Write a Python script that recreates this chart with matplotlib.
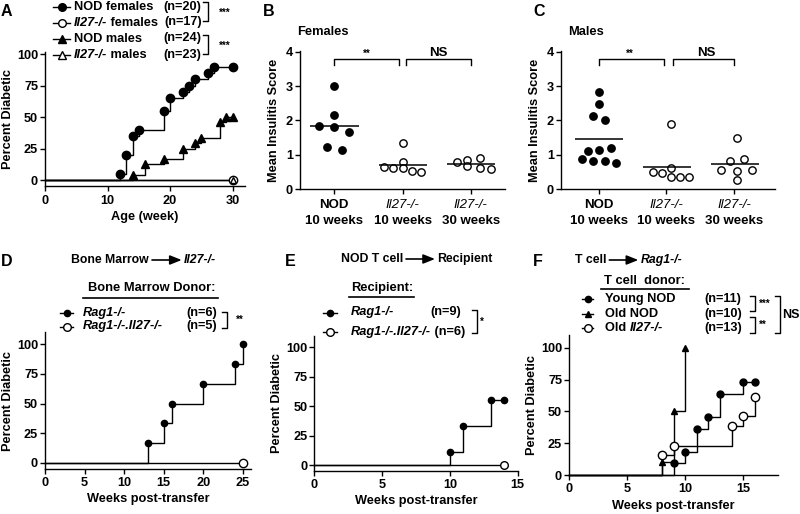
import numpy as np
import matplotlib
matplotlib.use('Agg')
import matplotlib.pyplot as plt

plt.rcParams['font.family'] = ['Liberation Sans', 'DejaVu Sans']
plt.rcParams['font.weight'] = 'bold'
plt.rcParams['font.size'] = 9
plt.rcParams['axes.linewidth'] = 1.0

# ---------------- data ----------------
# Panel A (Kaplan-Meier style incidence)
A_nod_f_weeks = [12, 13, 14, 15, 19, 20, 22, 23, 24, 26, 27, 30]
A_nod_f_pct = [5, 20, 35, 40, 55, 65, 70, 75, 80, 85, 90, 90]
A_il27_f_weeks = [30]
A_il27_f_pct = [0]
A_nod_m_weeks = [14, 16, 19, 22, 24, 25, 28, 29, 30]
A_nod_m_pct = [4.2, 12.5, 16.7, 25, 29.2, 33.3, 45.8, 50, 50]
A_il27_m_weeks = [30]
A_il27_m_pct = [0]

# Panels B/C (insulitis scores)
cat_line1 = ['NOD', 'Il27-/-', 'Il27-/-']
cat_line2 = ['10 weeks', '10 weeks', '30 weeks']
B_nod10 = [3.0, 2.17, 1.84, 1.81, 1.68, 1.23, 1.13]
B_il27_10 = [1.34, 0.78, 0.64, 0.61, 0.61, 0.54, 0.50]
B_il27_30 = [0.79, 0.84, 0.90, 0.67, 0.63, 0.59]
C_nod10 = [2.82, 2.47, 2.13, 2.02, 1.19, 1.14, 1.11, 0.87, 0.83, 0.81, 0.75]
C_il27_10 = [1.90, 0.62, 0.50, 0.47, 0.37, 0.37, 0.37]
C_il27_30 = [1.50, 0.83, 0.88, 0.57, 0.54, 0.55, 0.26]
# horizontal spread of dots
B_off = [[0, 0, -0.22, 0, 0.22, -0.11, 0.11],
         [0, 0, -0.27, -0.14, 0, 0.14, 0.27],
         [-0.20, -0.05, 0.13, -0.05, 0.13, 0.29]]
C_off = [[0, 0, -0.08, 0.09, 0.18, 0, -0.16, -0.25, -0.08, 0.09, 0.26],
         [0.07, 0.07, -0.20, -0.07, 0.07, 0.20, 0.33],
         [0.04, -0.07, 0.15, -0.19, 0.04, 0.26, 0.04]]

# Panel D
D_rag_weeks = [13, 15, 16, 20, 24, 25]
D_rag_pct = [16.7, 33.3, 50, 66.7, 83.3, 100]
D_il27_weeks = [25]
D_il27_pct = [0]
# Panel E
E_rag_weeks = [10, 11, 13, 14]
E_rag_pct = [11.1, 33.3, 55.6, 55.6]
E_il27_weeks = [14]
E_il27_pct = [0]
# Panel F
F_young_weeks = [9, 10, 11, 12, 13, 15, 16]
F_young_pct = [9.1, 18.2, 36.4, 45.5, 63.6, 72.7, 72.7]
F_oldnod_weeks = [8, 9, 10]
F_oldnod_pct = [10, 50, 100]
F_oldil27_weeks = [8, 9, 14, 15, 16]
F_oldil27_pct = [15.4, 23.1, 38.5, 46.2, 61.5]

# ---------------- figure ----------------
W, H = 800, 514
fig = plt.figure(figsize=(W / 100, H / 100), dpi=100)


def px_axes(L, T, R, B):
    return fig.add_axes([L / W, 1 - B / H, (R - L) / W, (B - T) / H])


def style(ax):
    for s in ['top', 'right']:
        ax.spines[s].set_visible(False)
    ax.tick_params(direction='out', length=3.5, width=1.0, labelsize=9.2)
    ax.tick_params(axis='y', pad=1.5)
    ax.tick_params(axis='x', pad=2.5)
    for lab in ax.get_xticklabels() + ax.get_yticklabels():
        lab.set_fontweight('bold')


def km(ax, weeks, pct, marker, filled, ms):
    ax.step([0] + list(weeks), [0] + list(pct), where='post', color='k', lw=1.0,
            clip_on=False, zorder=2)
    ax.plot(weeks, pct, ls='none', marker=marker, ms=ms,
            mfc='k' if filled else 'white', mec='k', mew=1.0, clip_on=False, zorder=3)


# ----- A -----
axA = px_axes(45, 51.5, 245, 186.3)
km(axA, A_nod_f_weeks, A_nod_f_pct, 'o', True, 6)
km(axA, A_nod_m_weeks, A_nod_m_pct, '^', True, 5.5)
km(axA, A_il27_f_weeks, A_il27_f_pct, 'o', False, 6)
km(axA, A_il27_m_weeks, A_il27_m_pct, '^', False, 5)
axA.set_xlim(0, 32)
axA.set_ylim(-5, 102)
axA.set_xticks([0, 10, 20, 30])
axA.set_yticks([0, 25, 50, 75, 100])
axA.set_xlabel('Age (week)', fontsize=9.2, fontweight='bold', labelpad=3)
axA.set_ylabel('Percent Diabetic', fontsize=9.2, fontweight='bold', labelpad=2)
style(axA)


# ----- B / C -----
def dots(ax, groups, offs, xlim):
    for i, (vals, off) in enumerate(zip(groups, offs)):
        xi = i + 1
        xs = [xi + o for o in off]
        ax.plot(xs, vals, ls='none', marker='o', ms=5.3,
                mfc='k' if i == 0 else 'white', mec='k', mew=1.0, clip_on=False)
        ax.hlines(np.mean(vals), xi - 0.35, xi + 0.36, color='k', lw=1.1)
    ax.set_xlim(*xlim)
    ax.set_ylim(0, 4.02)
    ax.set_yticks([0, 1, 2, 3, 4])
    ax.set_xticks([1, 2, 3])
    ax.set_xticklabels([])
    ax.set_ylabel('Mean Insulitis Score', fontsize=9.2, fontweight='bold', labelpad=4)
    style(ax)
    for i in range(3):
        ital = cat_line1[i] != 'NOD'
        ax.annotate(cat_line1[i], xy=(i + 1, 0), xycoords=('data', 'axes fraction'),
                    xytext=(0, -11.3), textcoords='offset points', ha='center', va='center',
                    fontsize=9.5, fontstyle='italic' if ital else 'normal',
                    fontweight='normal' if ital else 'bold')
        ax.annotate(cat_line2[i], xy=(i + 1, 0), xycoords=('data', 'axes fraction'),
                    xytext=(0, -22.6), textcoords='offset points', ha='center', va='center',
                    fontsize=9.5, fontweight='bold')


axB = px_axes(300, 51, 505, 189.3)
dots(axB, [B_nod10, B_il27_10, B_il27_30], B_off, (0.5, 3.5))
axC = px_axes(560.7, 51, 775, 189.3)
dots(axC, [C_nod10, C_il27_10, C_il27_30], C_off, (0.44, 3.6))


def top_bracket(ax, x0, x1, ytop, yleg, label, lx, ly, size):
    ax.plot([x0, x0, x1, x1], [yleg, ytop, ytop, yleg], color='k', lw=1.0, clip_on=False)
    ax.text(lx, ly, label, ha='center', va='center', fontsize=size, fontweight='bold')


top_bracket(axB, 1.0, 1.95, 3.79, 3.6, '**', 1.48, 3.93, 7)
top_bracket(axB, 2.05, 3.0, 3.79, 3.6, 'NS', 2.52, 3.97, 9.5)
top_bracket(axC, 1.0, 1.96, 3.79, 3.6, '**', 1.46, 3.93, 7)
top_bracket(axC, 2.1, 3.0, 3.79, 3.6, 'NS', 2.59, 3.97, 9.5)

# ----- D -----
axD = px_axes(45, 332.4, 250.7, 468.9)
km(axD, D_rag_weeks, D_rag_pct, 'o', True, 4.5)
km(axD, D_il27_weeks, D_il27_pct, 'o', False, 6)
axD.set_xlim(0, 26)
axD.set_ylim(-5, 110)
axD.set_xticks([0, 5, 10, 15, 20, 25])
axD.set_yticks([0, 25, 50, 75, 100])
axD.set_xlabel('Weeks post-transfer', fontsize=9.2, fontweight='bold', labelpad=3)
axD.set_ylabel('Percent Diabetic', fontsize=9.2, fontweight='bold', labelpad=2)
style(axD)

# ----- E -----
axE = px_axes(314.3, 335.6, 517.7, 470.9)
km(axE, E_rag_weeks, E_rag_pct, 'o', True, 4.5)
km(axE, E_il27_weeks, E_il27_pct, 'o', False, 5.5)
axE.set_xlim(0, 15)
axE.set_ylim(-5, 110)
axE.set_xticks([0, 5, 10, 15])
axE.set_yticks([0, 25, 50, 75, 100])
axE.set_xlabel('Weeks post-transfer', fontsize=9.2, fontweight='bold', labelpad=3)
axE.set_ylabel('Percent Diabetic', fontsize=9.2, fontweight='bold', labelpad=2)
style(axE)

# ----- F -----
axF = px_axes(569, 335, 778, 475)
km(axF, F_oldnod_weeks, F_oldnod_pct, '^', True, 4.5)
km(axF, F_young_weeks, F_young_pct, 'o', True, 5)
km(axF, F_oldil27_weeks, F_oldil27_pct, 'o', False, 6)
axF.set_xlim(0, 18)
axF.set_ylim(0, 110)
axF.set_xticks([0, 5, 10, 15])
axF.set_yticks([0, 25, 50, 75, 100])
axF.set_xlabel('Weeks post-transfer', fontsize=9.2, fontweight='bold', labelpad=3)
axF.set_ylabel('Percent Diabetic', fontsize=9.2, fontweight='bold', labelpad=2)
style(axF)

# ---------------- overlay: legends, titles, letters ----------------
ov = fig.add_axes([0, 0, 1, 1])
ov.set_xlim(0, W)
ov.set_ylim(H, 0)
ov.axis('off')


def rich(x, y, parts, size=9.2):
    prev = None
    for txt, st in parts:
        kw = dict(fontsize=size, fontweight='bold',
                  fontstyle='italic' if 'i' in st else 'normal', va='center', ha='left')
        if prev is None:
            prev = ov.text(x, y, txt, **kw)
        else:
            prev = ov.annotate(txt, xy=(1, 0.5), xycoords=prev, **kw)
    return prev


def handle(x0, x1, y, marker, filled, ms):
    ov.plot([x0, x1], [y, y], color='k', lw=1.0)
    ov.plot([(x0 + x1) / 2], [y], marker=marker, ms=ms, mfc='k' if filled else 'white',
            mec='k', mew=1.0)


def rbracket(x0, x1, y0, y1):
    ov.plot([x0, x1, x1, x0], [y0, y0, y1, y1], color='k', lw=1.0)


# panel letters
for lab, x, y in [('A', 1, 11), ('B', 263, 11), ('C', 533, 11),
                  ('D', 1, 262), ('E', 285, 262), ('F', 533, 262)]:
    ov.text(x, y, lab, fontsize=11.5, fontweight='bold', ha='left', va='center')

# A legend
A_rows = [7, 22.5, 38.5, 55]
A_leg = [([('NOD females', 'b')], '(n=20)', 'o', True),
         ([('Il27-/-', 'bi'), (' females', 'b')], '(n=17)', 'o', False),
         ([('NOD males', 'b')], '(n=24)', '^', True),
         ([('Il27-/-', 'bi'), (' males', 'b')], '(n=23)', '^', False)]
for y, (parts, n, mk, fill) in zip(A_rows, A_leg):
    handle(53, 70, y, mk, fill, 5.5)
    rich(74, y, parts)
    ov.text(201.7, y, n, ha='right', va='center', fontsize=9.2, fontweight='bold')
rbracket(203, 208, 2, 21)
rbracket(203, 208, 34.5, 53.5)
ov.text(225, 13, '***', ha='center', va='center', fontsize=7, fontweight='bold')
ov.text(225, 46, '***', ha='center', va='center', fontsize=7, fontweight='bold')

# B/C titles
ov.text(296.7, 31.7, 'Females', ha='left', va='center', fontsize=9.3, fontweight='bold')
ov.text(568.3, 31.7, 'Males', ha='left', va='center', fontsize=9.3, fontweight='bold')


def arrow(x0, x1, y):
    ov.annotate('', xy=(x1, y), xytext=(x0, y),
                arrowprops=dict(arrowstyle='-|>,head_length=0.7,head_width=0.28',
                                lw=1.2, color='k', shrinkA=0, shrinkB=0, mutation_scale=10))


# D title + legend
ov.text(149, 260, 'Bone Marrow', ha='right', va='center', fontsize=8.8, fontweight='bold')
arrow(152, 181.7, 260)
ov.text(184, 260, 'Il27-/-', ha='left', va='center', fontsize=8.8, fontweight='bold',
        fontstyle='italic')
ov.text(151.3, 288.3, 'Bone Marrow Donor:', ha='center', va='center', fontsize=9.3,
        fontweight='bold')
ov.plot([83.3, 218.3], [297.7, 297.7], color='k', lw=1.2)
for y, txt, n, fill in [(313.3, 'Rag1-/-', '(n=6)', True),
                        (326.5, 'Rag1-/-.Il27-/-', '(n=5)', False)]:
    handle(60, 73, y, 'o', fill, 4.5 if fill else 5.5)
    rich(82.7, y, [(txt, 'bi')])
    ov.text(216.7, y, n, ha='right', va='center', fontsize=9.2, fontweight='bold')
rbracket(221.7, 226.7, 311.7, 328.3)
ov.text(240, 320, '**', ha='center', va='center', fontsize=7, fontweight='bold')

# E title + legend
ov.text(403, 259, 'NOD T cell', ha='right', va='center', fontsize=8.8, fontweight='bold')
arrow(406, 435, 259)
ov.text(437, 259, 'Recipient', ha='left', va='center', fontsize=8.8, fontweight='bold')
ov.text(382.2, 287.7, 'Recipient:', ha='center', va='center', fontsize=9.3,
        fontweight='bold')
ov.plot([349.3, 414], [296.7, 296.7], color='k', lw=1.2)
handle(323, 337, 312.5, 'o', True, 4.5)
rich(350.7, 312.5, [('Rag1-/-', 'bi')])
ov.text(430, 312.5, '(n=9)', ha='left', va='center', fontsize=9.2, fontweight='bold')
handle(323, 337, 331.5, 'o', False, 5.5)
rich(350.7, 331.5, [('Rag1-/-.Il27-/-', 'bi'), (' (n=6)', 'b')])
rbracket(471.7, 476.7, 310, 333)
ov.text(482.3, 322, '*', ha='center', va='center', fontsize=7, fontweight='bold')

# F title + legend
ov.text(606.5, 260, 'T cell', ha='right', va='center', fontsize=8.8, fontweight='bold')
arrow(609.3, 638.3, 260)
ov.text(640.5, 260, 'Rag1-/-', ha='left', va='center', fontsize=8.8, fontweight='bold',
        fontstyle='italic')
ov.text(645, 281, 'T cell  donor:', ha='center', va='center', fontsize=9.3,
        fontweight='bold')
ov.plot([601, 689], [288.5, 288.5], color='k', lw=1.2)
F_rows = [299.3, 314.3, 328.3]
F_leg = [([('Young NOD', 'b')], '(n=11)', 'o', True, 4.5),
         ([('Old NOD', 'b')], '(n=10)', '^', True, 4.5),
         ([('Old ', 'b'), ('Il27-/-', 'bi')], '(n=13)', 'o', False, 5.5)]
for y, (parts, n, mk, fill, ms) in zip(F_rows, F_leg):
    handle(581.7, 593.3, y, mk, fill, ms)
    rich(605, y, parts)
    ov.text(741.7, y, n, ha='right', va='center', fontsize=9.2, fontweight='bold')
rbracket(750, 755, 295.7, 311)
rbracket(750, 755, 316.7, 333.3)
rbracket(775, 780, 296, 333.3)
ov.text(765, 303.5, '***', ha='center', va='center', fontsize=7, fontweight='bold')
ov.text(763, 325, '**', ha='center', va='center', fontsize=7, fontweight='bold')
ov.text(782, 315, 'NS', ha='left', va='center', fontsize=9, fontweight='bold')

fig.savefig('out.png', dpi=100)
